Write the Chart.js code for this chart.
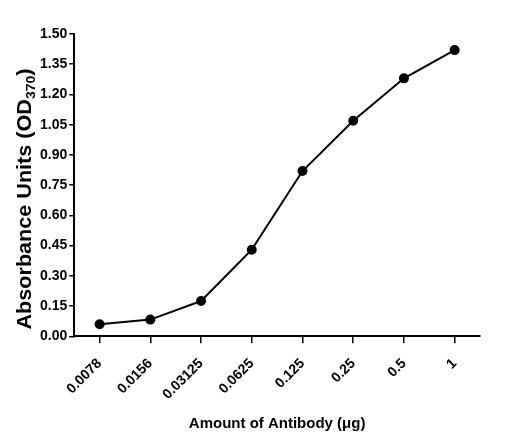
<!DOCTYPE html>
<html>
<head>
<meta charset="utf-8">
<script src="https://cdn.jsdelivr.net/npm/chart.js@4"></script>
<style>
  body { margin: 0; background: #fff; }
</style>
</head>
<body>
<canvas id="odChart" width="509" height="439"></canvas>
<script>
var amounts = ["0.0078", "0.0156", "0.03125", "0.0625", "0.125", "0.25", "0.5", "1"];
var absorbance = [0.06, 0.083, 0.175, 0.43, 0.82, 1.07, 1.28, 1.42];

var font = "'Liberation Sans', Arial, sans-serif";

// y title has a subscript, so it is drawn by hand
var yTitle = {
    id: 'yTitle',
    afterDraw: function(chart)
    {
        var c = chart.ctx;
        var main = "Absorbance Units (OD";
        var sub = "370";
        var close = ")";
        c.save();
        c.translate(25, 199);
        c.rotate(-Math.PI / 2);
        c.scale(1.08, 1);
        c.fillStyle = '#000';
        c.textBaseline = 'middle';
        c.textAlign = 'left';
        c.font = "bold 13px " + font;
        var wSub = c.measureText(sub).width;
        c.font = "bold 20px " + font;
        var wMain = c.measureText(main).width;
        var wClose = c.measureText(close).width;
        var x = -(wMain + wSub + wClose) / 2;
        c.fillText(main, x, 0);
        c.fillText(close, x + wMain + wSub, 0);
        c.font = "bold 13px " + font;
        c.fillText(sub, x + wMain, 6);
        c.restore();
    }
};

var ctx = document.getElementById("odChart").getContext('2d');

var chart = new Chart(ctx,
{
    type: 'line',
    data:
    {
        labels: amounts,
        datasets: [
        {
            data: absorbance,
            borderColor: '#000',
            backgroundColor: '#000',
            borderWidth: 2,
            pointRadius: 4,
            pointHoverRadius: 4,
            tension: 0
        }]
    },
    options:
    {
        responsive: false,
        animation: false,
        layout:
        {
            padding: { left: 38, right: 29, top: 34, bottom: 2 }
        },
        plugins:
        {
            legend: { display: false },
            tooltip: { enabled: false }
        },
        scales:
        {
            x:
            {
                offset: true,
                border: { color: '#000', width: 2 },
                grid: { drawOnChartArea: false, color: '#000', tickLength: 7, lineWidth: 1.5 },
                ticks:
                {
                    color: '#000',
                    font: { family: font, size: 14, weight: 'bold' },
                    maxRotation: 45,
                    minRotation: 45,
                    padding: 12
                },
                title:
                {
                    display: true,
                    text: 'Amount of Antibody (μg)',
                    color: '#000',
                    font: { family: font, size: 15, weight: 'bold' },
                    padding: { top: 0 }
                }
            },
            y:
            {
                min: 0,
                max: 1.5,
                border: { color: '#000', width: 2 },
                grid: { drawOnChartArea: false, color: '#000', tickLength: 5, lineWidth: 1.5 },
                ticks:
                {
                    stepSize: 0.15,
                    color: '#000',
                    padding: 2,
                    font: { family: font, size: 14, weight: 'bold' },
                    callback: function(v) { return v.toFixed(2); }
                }
            }
        }
    },
    plugins: [yTitle]
});
</script>
</body>
</html>
